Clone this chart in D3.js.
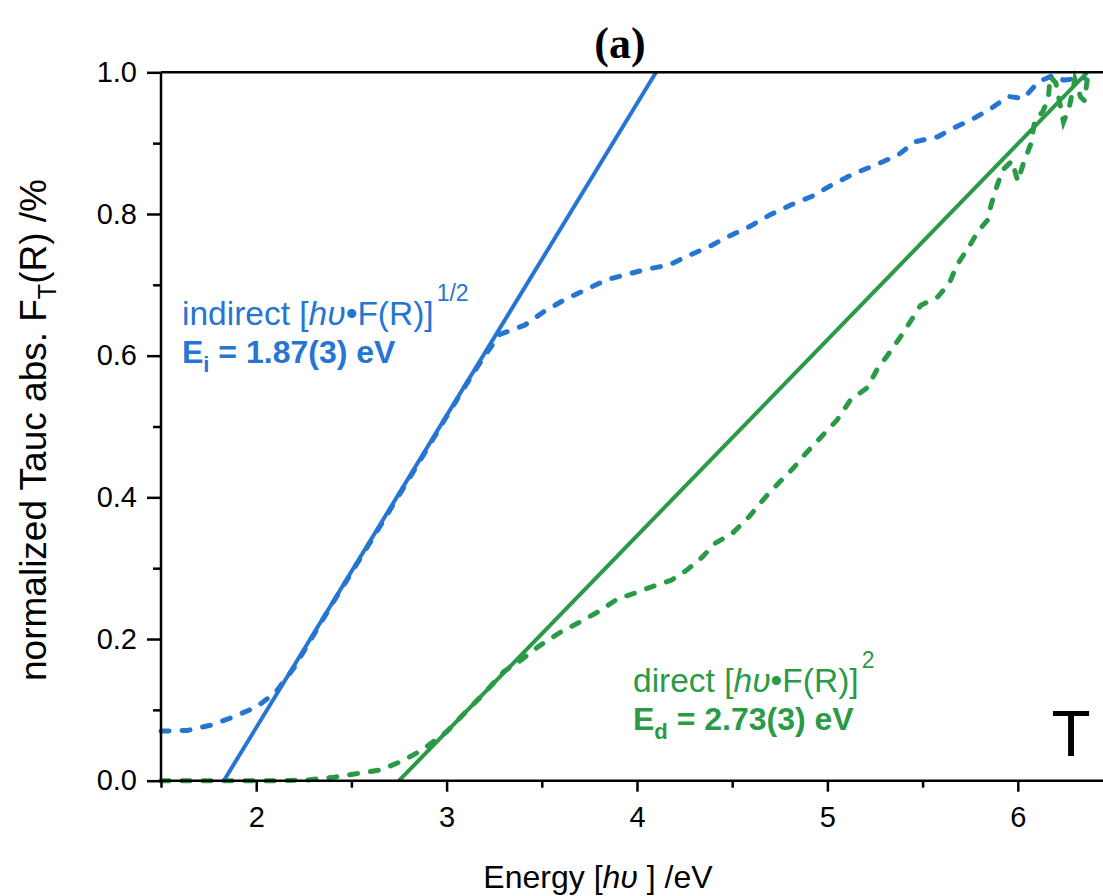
<!DOCTYPE html>
<html>
<head>
<meta charset="utf-8">
<script src="https://cdn.jsdelivr.net/npm/d3@7"></script>
<style>
  body { margin: 0; background: #fff; }
  svg { display: block; font-family: "Liberation Sans", Arial, sans-serif; }
  .axis path { display: none; }
  .axis line { stroke: #000; stroke-width: 2.5; }
  .axis text { font-size: 29px; fill: #000; font-family: "Liberation Sans", Arial, sans-serif; }
</style>
</head>
<body>
<svg id="chart" width="1103" height="896"></svg>
<script>
// ── Tick values ──
const xMajor = [2, 3, 4, 5, 6];
const xMinor = [1.5, 2.5, 3.5, 4.5, 5.5];
const yMajor = [0, 0.2, 0.4, 0.6, 0.8, 1.0];
const yMinor = [0.1, 0.3, 0.5, 0.7, 0.9];

// ── Indirect (blue) Tauc curve, dashed ──
const indirectE = [1.5, 1.64, 1.77, 1.88, 2.0, 2.1, 2.2, 2.4, 2.6, 2.8, 3.0, 3.1, 3.2, 3.28,
  3.41, 3.51, 3.62, 3.73, 3.84, 3.95, 4.05, 4.17, 4.26, 4.38, 4.47, 4.59, 4.70, 4.81,
  4.92, 5.03, 5.14, 5.25, 5.37, 5.46, 5.58, 5.66, 5.77, 5.86, 5.95, 6.03, 6.11, 6.19, 6.24, 6.35];
const indirectV = [0.07, 0.071, 0.079, 0.09, 0.104, 0.124, 0.16, 0.25, 0.337, 0.425, 0.514, 0.558, 0.60, 0.63,
  0.643, 0.662, 0.679, 0.693, 0.707, 0.715, 0.722, 0.728, 0.74, 0.754, 0.767, 0.782, 0.799, 0.813,
  0.825, 0.842, 0.857, 0.869, 0.883, 0.902, 0.909, 0.921, 0.935, 0.949, 0.966, 0.963, 0.987, 0.996, 0.989, 0.992];

// ── Direct (green) Tauc curve, dashed ──
const directE = [1.5, 1.8, 2.1, 2.27, 2.41, 2.53, 2.65, 2.76, 2.87, 3.0, 3.1, 3.2, 3.3,
  3.39, 3.48, 3.60, 3.70, 3.80, 3.90, 3.98, 4.08, 4.18, 4.26, 4.34, 4.41, 4.50, 4.59,
  4.67, 4.75, 4.82, 4.89, 4.97, 5.05, 5.12, 5.21, 5.26, 5.32, 5.38, 5.44, 5.49, 5.58,
  5.64, 5.68, 5.74, 5.79, 5.84, 5.86, 5.89, 5.92, 5.97, 6.0, 6.03, 6.07, 6.09, 6.13,
  6.16, 6.17, 6.20, 6.24, 6.27, 6.30, 6.33, 6.35, 6.37];
const directV = [0, 0, 0, 0.001, 0.005, 0.01, 0.015, 0.027, 0.043, 0.069, 0.097, 0.124, 0.154,
  0.170, 0.189, 0.21, 0.224, 0.239, 0.257, 0.264, 0.274, 0.283, 0.297, 0.315, 0.335, 0.349, 0.373,
  0.399, 0.422, 0.441, 0.463, 0.486, 0.509, 0.537, 0.555, 0.58, 0.602, 0.625, 0.65, 0.671, 0.683,
  0.702, 0.728, 0.752, 0.775, 0.791, 0.813, 0.839, 0.862, 0.875, 0.846, 0.872, 0.90, 0.933, 0.944,
  0.962, 0.994, 0.985, 0.93, 0.95, 0.99, 0.965, 0.96, 1.0];

// ── Linear fits ──
const indirectFitE = [1.83, 4.10];
const indirectFitV = [0, 1];
const directFitE = [2.75, 6.365];
const directFitV = [0, 1];

const blue = "#2675d2";
const green = "#2a9a46";

const svg = d3.select("#chart");
const x = d3.scaleLinear().domain([1.5, 6.5]).range([161, 1113]);
const y = d3.scaleLinear().domain([0, 1]).range([780.7, 72.3]);

const line = d3.line().x(d => x(d[0])).y(d => y(d[1]));
const zip = (a, b) => a.map((v, i) => [v, b[i]]);

// dashed curves
svg.append("path")
  .attr("d", line(zip(indirectE, indirectV)))
  .attr("fill", "none").attr("stroke", blue).attr("stroke-width", 5)
  .attr("stroke-dasharray", "8,13").attr("stroke-linecap", "round");

svg.append("path")
  .attr("d", line(zip(directE, directV)))
  .attr("fill", "none").attr("stroke", green).attr("stroke-width", 5)
  .attr("stroke-dasharray", "8,13").attr("stroke-linecap", "round");

// fit lines
svg.append("path")
  .attr("d", line(zip(indirectFitE, indirectFitV)))
  .attr("fill", "none").attr("stroke", blue).attr("stroke-width", 4);
svg.append("path")
  .attr("d", line(zip(directFitE, directFitV)))
  .attr("fill", "none").attr("stroke", green).attr("stroke-width", 4);

// ── Axes ──
svg.append("g").attr("class", "axis")
  .attr("transform", `translate(0,${y(0)})`)
  .call(d3.axisBottom(x).tickValues(xMajor).tickSize(11).tickPadding(15).tickFormat(d3.format("d")));
svg.append("g").attr("class", "axis")
  .attr("transform", `translate(0,${y(0)})`)
  .call(d3.axisBottom(x).tickValues(xMinor).tickSize(7).tickFormat(""));

svg.append("g").attr("class", "axis")
  .attr("transform", `translate(${x(1.5)},0)`)
  .call(d3.axisLeft(y).tickValues(yMajor).tickSize(14).tickPadding(10).tickFormat(d3.format(".1f")));
svg.append("g").attr("class", "axis")
  .attr("transform", `translate(${x(1.5)},0)`)
  .call(d3.axisLeft(y).tickValues(yMinor).tickSize(8).tickFormat(""));

// frame
const frame = svg.append("g").attr("stroke", "#000").attr("stroke-width", 2.5);
frame.append("line").attr("x1", x(1.5)).attr("x2", x(6.5)).attr("y1", y(0)).attr("y2", y(0));
frame.append("line").attr("x1", x(1.5)).attr("x2", x(6.5)).attr("y1", y(1)).attr("y2", y(1));
frame.append("line").attr("x1", x(1.5)).attr("x2", x(1.5)).attr("y1", y(0)).attr("y2", y(1));

// ── Titles ──
svg.append("text")
  .attr("x", 620).attr("y", 58).attr("text-anchor", "middle")
  .style("font-family", "'Liberation Serif', 'Times New Roman', serif")
  .style("font-weight", "bold").style("font-size", "44px")
  .text("(a)");

const xt = svg.append("text")
  .attr("x", 598).attr("y", 888).attr("text-anchor", "middle")
  .style("font-size", "32px");
xt.append("tspan").text("Energy [");
xt.append("tspan").style("font-style", "italic").text("hυ");
xt.append("tspan").text(" ] /eV");

const yt = svg.append("text")
  .attr("transform", "translate(46,430) rotate(-90)")
  .attr("text-anchor", "middle")
  .style("font-size", "37px");
yt.append("tspan").text("normalized Tauc abs. F");
yt.append("tspan").attr("dy", 10).style("font-size", "25px").text("T");
yt.append("tspan").attr("dy", -10).text("(R) /%");

// ── Annotations ──
function fitLabel(x0, y0, color, name, exp, sym, sub, value) {
  const t1 = svg.append("text").attr("x", x0).attr("y", y0)
    .attr("fill", color).style("font-size", "33.5px");
  t1.append("tspan").text(name + " [");
  t1.append("tspan").style("font-style", "italic").text("hυ");
  t1.append("tspan").text("•F(R)]");
  t1.append("tspan").attr("dx", 3).attr("dy", -24).style("font-size", "23px").text(exp);

  const t2 = svg.append("text").attr("x", x0).attr("y", y0 + 38)
    .attr("fill", color).style("font-size", "32px").style("font-weight", "bold");
  t2.append("tspan").text(sym);
  t2.append("tspan").attr("dy", 9).style("font-size", "22px").text(sub);
  t2.append("tspan").attr("dy", -9).text(" = " + value);
}

fitLabel(182, 325, blue, "indirect", "1/2", "E", "i", "1.87(3) eV");
fitLabel(633, 692, green, "direct", "2", "E", "d", "2.73(3) eV");

svg.append("text")
  .attr("x", 1071).attr("y", 756).attr("text-anchor", "middle")
  .style("font-size", "64px").text("T");
</script>
</body>
</html>
